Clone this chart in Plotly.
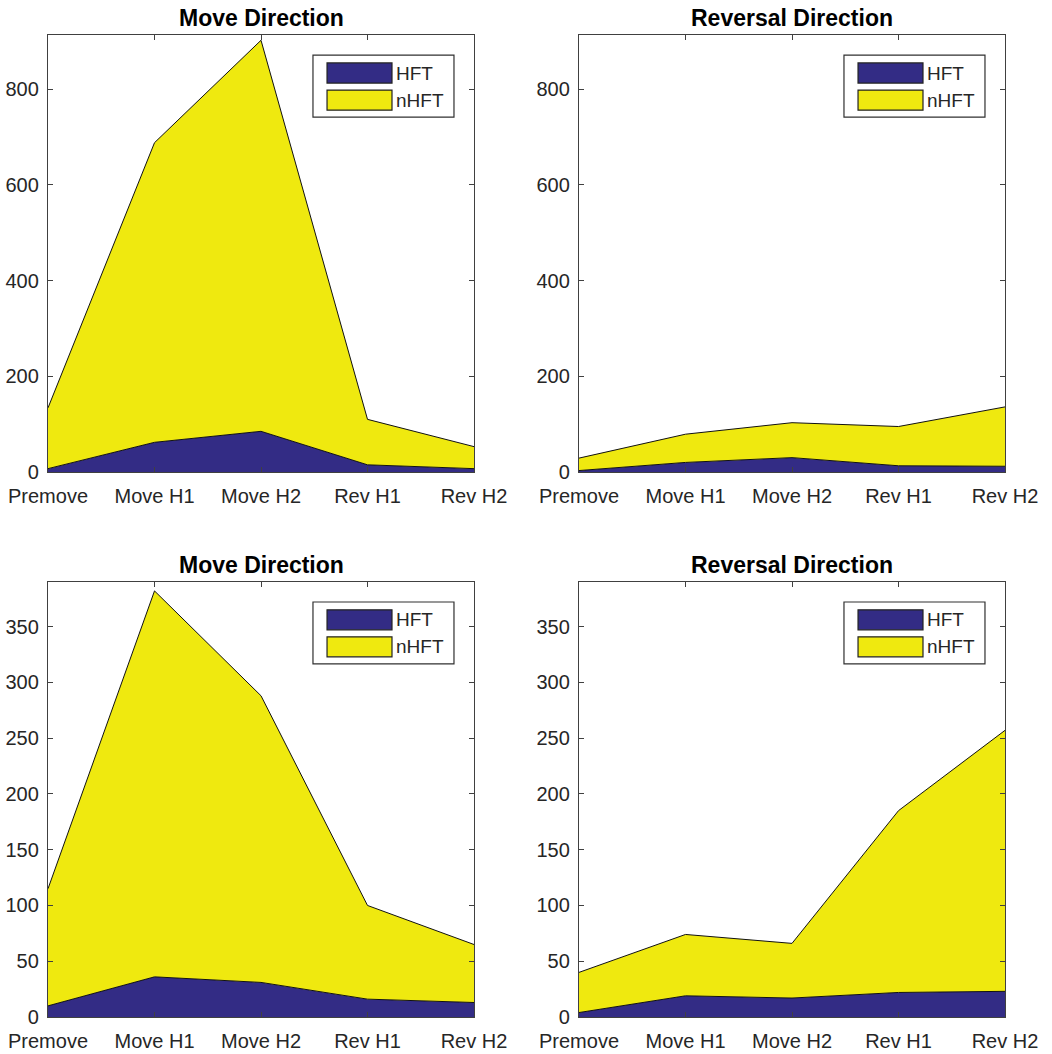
import plotly.graph_objects as go

# Time windows on the x axis
categories = ["Premove", "Move H1", "Move H2", "Rev H1", "Rev H2"]

# Panel titles (row-major: top-left, top-right, bottom-left, bottom-right)
panel_titles = ["Move Direction", "Reversal Direction", "Move Direction", "Reversal Direction"]

# Stacked counts per panel: HFT on the bottom, nHFT stacked on top
hft_move_a = [7, 62, 85, 15, 7]
nhft_move_a = [127, 626, 817, 95, 46]

hft_rev_a = [3, 20, 30, 13, 12]
nhft_rev_a = [26, 59, 73, 82, 124]

hft_move_b = [10, 36, 31, 16, 13]
nhft_move_b = [105, 346, 257, 84, 52]

hft_rev_b = [4, 19, 17, 22, 23]
nhft_rev_b = [36, 55, 49, 163, 234]

series_names = ["HFT", "nHFT"]

# y tick labels for each row
y_ticks_top = [0, 200, 400, 600, 800]
y_ticks_bottom = [0, 50, 100, 150, 200, 250, 300, 350]

panels = [
    (hft_move_a, nhft_move_a),
    (hft_rev_a, nhft_rev_a),
    (hft_move_b, nhft_move_b),
    (hft_rev_b, nhft_rev_b),
]

W, H = 1052, 1054
HFT_COLOR = "#332c85"
NHFT_COLOR = "#efe90f"
AXIS_COLOR = "#404040"
FONT = "Liberation Sans, Arial, Helvetica, sans-serif"

fig = go.Figure()

for i, (hft, nhft) in enumerate(panels):
    n = "" if i == 0 else str(i + 1)
    for name, vals, color in zip(series_names, (hft, nhft), (HFT_COLOR, NHFT_COLOR)):
        fig.add_trace(go.Scatter(
            x=categories, y=vals, name=name,
            mode="lines", stackgroup=f"panel{i}",
            line=dict(color="#111111", width=1),
            fillcolor=color,
            xaxis="x" + n, yaxis="y" + n,
            showlegend=False, hoverinfo="x+y+name",
        ))

# Axes placement (pixel boxes converted to paper fractions)
col_px = [(48, 474), (579, 1005)]
row_px = [(35, 472), (582, 1017)]
y_ranges = [[0, 913], [0, 390]]
y_tick_sets = [y_ticks_top, y_ticks_bottom]

layout = dict(
    width=W, height=H,
    margin=dict(l=0, r=0, t=0, b=0, autoexpand=False),
    paper_bgcolor="white", plot_bgcolor="white",
    font=dict(family=FONT, size=20, color="#262626"),
    showlegend=False,
)

annotations = []
shapes = []

for i in range(4):
    r, c = divmod(i, 2)
    n = "" if i == 0 else str(i + 1)
    x0, x1 = col_px[c]
    yt, yb = row_px[r]
    axis_common = dict(
        showline=True, linecolor=AXIS_COLOR, linewidth=1.3, mirror="ticks",
        ticks="inside", ticklen=5, tickcolor=AXIS_COLOR, tickwidth=1,
        showgrid=False, zeroline=False, automargin=False,
        tickfont=dict(family=FONT, size=20, color="#262626"),
    )
    layout["xaxis" + n] = dict(
        domain=[x0 / W, x1 / W], anchor="y" + n,
        type="category", categoryorder="array", categoryarray=categories,
        range=[0, len(categories) - 1], ticklabelstandoff=6,
        **axis_common,
    )
    layout["yaxis" + n] = dict(
        domain=[1 - yb / H, 1 - yt / H], anchor="x" + n,
        range=y_ranges[r], tickvals=y_tick_sets[r], ticklabelstandoff=4,
        **axis_common,
    )

    xd, yd = "x" + n + " domain", "y" + n + " domain"
    annotations.append(dict(
        text="<b>" + panel_titles[i] + "</b>", xref=xd, yref=yd,
        x=0.5, y=1, xanchor="center", yanchor="bottom", yshift=2,
        showarrow=False, font=dict(family=FONT, size=23, color="#000000"),
    ))

    # Legend box inside each panel
    shapes.append(dict(type="rect", xref=xd, yref=yd,
                       x0=0.622, x1=0.953, y0=0.812, y1=0.954,
                       line=dict(color="#303030", width=1.2), fillcolor="white"))
    for name, color, ytop, ybot in zip(series_names, (HFT_COLOR, NHFT_COLOR),
                                       (0.936, 0.874), (0.890, 0.828)):
        shapes.append(dict(type="rect", xref=xd, yref=yd,
                           x0=0.655, x1=0.8075, y0=ybot, y1=ytop,
                           line=dict(color="#222222", width=1.2), fillcolor=color))
        annotations.append(dict(
            text=name, xref=xd, yref=yd, x=0.813, y=(ytop + ybot) / 2,
            xanchor="left", yanchor="middle", showarrow=False,
            font=dict(family=FONT, size=19, color="#262626"),
        ))

layout["annotations"] = annotations
layout["shapes"] = shapes
fig.update_layout(**layout)

fig.write_html("out.html")
